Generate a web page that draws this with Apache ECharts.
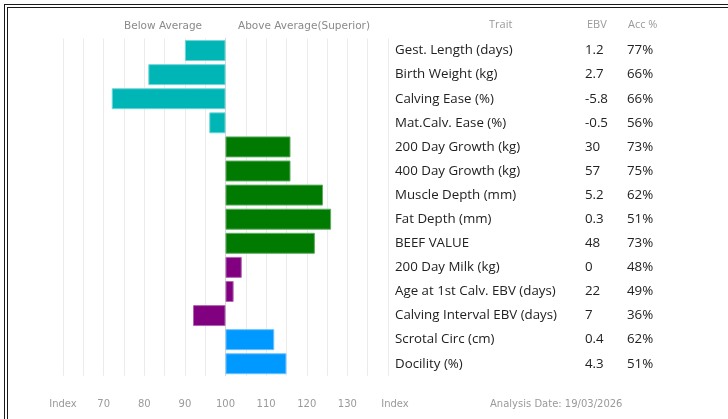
<!DOCTYPE html>
<html>
<head>
<meta charset="utf-8">
<script src="https://cdn.jsdelivr.net/npm/echarts@6/dist/echarts.min.js"></script>
<style>
  html, body { margin: 0; padding: 0; background: #fff; }
  #chart { width: 728px; height: 419px; position: absolute; left: 0; top: 0; }
  #frame { position: absolute; left: 4px; top: 4px; width: 740px; height: 430px;
           border-top: 4px double #1a1a1a; border-left: 4px double #1a1a1a; pointer-events: none; }
</style>
</head>
<body>
<div id="chart"></div>
<div id="frame"></div>
<script>
// ---- data ----
const traits = [
  'Gest. Length (days)', 'Birth Weight (kg)', 'Calving Ease (%)', 'Mat.Calv. Ease (%)',
  '200 Day Growth (kg)', '400 Day Growth (kg)', 'Muscle Depth (mm)', 'Fat Depth (mm)',
  'BEEF VALUE', '200 Day Milk (kg)', 'Age at 1st Calv. EBV (days)', 'Calving Interval EBV (days)',
  'Scrotal Circ (cm)', 'Docility (%)'
];
const indexValues = [90, 81, 72, 96, 116, 116, 124, 126, 122, 104, 102, 92, 112, 115];
const ebv = ['1.2', '2.7', '-5.8', '-0.5', '30', '57', '5.2', '0.3', '48', '0', '22', '7', '0.4', '4.3'];
const acc = ['77%', '66%', '66%', '56%', '73%', '75%', '62%', '51%', '73%', '48%', '49%', '36%', '62%', '51%'];
const groups = ['calving', 'calving', 'calving', 'calving', 'growth', 'growth', 'growth', 'growth',
                'growth', 'maternal', 'maternal', 'maternal', 'other', 'other'];
const axisMin = 60, axisMax = 140, average = 100;
const analysisDate = 'Analysis Date: 19/03/2026';

// ---- styling ----
const palette = { calving: '#00b5b5', growth: '#007a00', maternal: '#800080', other: '#0099ff' };
const borderPalette = { calving: '#6fd6d6', growth: '#5fae5f', maternal: '#b066b0', other: '#6cc2ff' };

const chart = echarts.init(document.getElementById('chart'), null, { renderer: 'canvas' });

const gridLeft = 63, gridWidth = 325, gridTop = 38.5, gridHeight = 337.3;

const tableFont = '"Open Sans", "DejaVu Sans", sans-serif';
const greyFont = '"DejaVu Sans", sans-serif';

chart.setOption({
  animation: false,
  grid: { left: gridLeft, width: gridWidth, top: gridTop, height: gridHeight, containLabel: false },
  xAxis: {
    type: 'value',
    min: axisMin - average,
    max: axisMax - average,
    interval: 5,
    axisLine: { show: false },
    axisTick: { show: false },
    splitLine: { show: true, lineStyle: { color: '#ebebeb', width: 1 } },
    axisLabel: {
      show: true,
      margin: 24,
      color: '#9a9a9a',
      fontFamily: greyFont,
      fontSize: 10,
      showMinLabel: true,
      showMaxLabel: true,
      formatter: function (v) {
        const idx = Math.round(v + average);
        if (idx === axisMin) return 'Index';
        if (idx === axisMax) return '{r|Index}';
        return idx % 10 === 0 ? String(idx) : '';
      },
      rich: { r: { padding: [0, 0, 0, 14], color: '#9a9a9a', fontFamily: greyFont, fontSize: 10 } }
    }
  },
  yAxis: [
    {
      type: 'category', data: traits, inverse: true, position: 'right',
      axisLine: { show: true, lineStyle: { color: '#d6d6d6', width: 1 } },
      axisTick: { show: false },
      axisLabel: { margin: 7, align: 'left', color: '#222', fontFamily: tableFont, fontSize: 13.3 }
    },
    {
      type: 'category', data: ebv, inverse: true, position: 'right', offset: 190,
      axisLine: { show: false }, axisTick: { show: false },
      axisLabel: { margin: 7, align: 'left', color: '#222', fontFamily: tableFont, fontSize: 13.3 }
    },
    {
      type: 'category', data: acc, inverse: true, position: 'right', offset: 232,
      axisLine: { show: false }, axisTick: { show: false },
      axisLabel: { margin: 7, align: 'left', color: '#222', fontFamily: tableFont, fontSize: 13.3 }
    }
  ],
  series: [{
    type: 'bar',
    yAxisIndex: 0,
    barCategoryGap: '13%',
    data: indexValues.map(function (v, i) {
      return {
        value: v - average,
        itemStyle: { color: palette[groups[i]], borderColor: borderPalette[groups[i]], borderWidth: 1 }
      };
    })
  }],
  graphic: [
    { type: 'text', left: 124, top: 21, style: { text: 'Below Average', fill: '#8a8a8a', font: '10.5px "DejaVu Sans", sans-serif' } },
    { type: 'text', left: 238, top: 21, style: { text: 'Above Average(Superior)', fill: '#8a8a8a', font: '10.5px "DejaVu Sans", sans-serif' } },
    { type: 'text', left: 489, top: 19, style: { text: 'Trait', fill: '#9a9a9a', font: '11px "Open Sans", sans-serif' } },
    { type: 'text', left: 587, top: 19, style: { text: 'EBV', fill: '#9a9a9a', font: '11px "Open Sans", sans-serif' } },
    { type: 'text', left: 628, top: 19, style: { text: 'Acc %', fill: '#9a9a9a', font: '11px "Open Sans", sans-serif' } },
    { type: 'text', left: 490, top: 399, style: { text: analysisDate, fill: '#9a9a9a', font: '10px "DejaVu Sans", sans-serif' } }
  ]
});
</script>
</body>
</html>
